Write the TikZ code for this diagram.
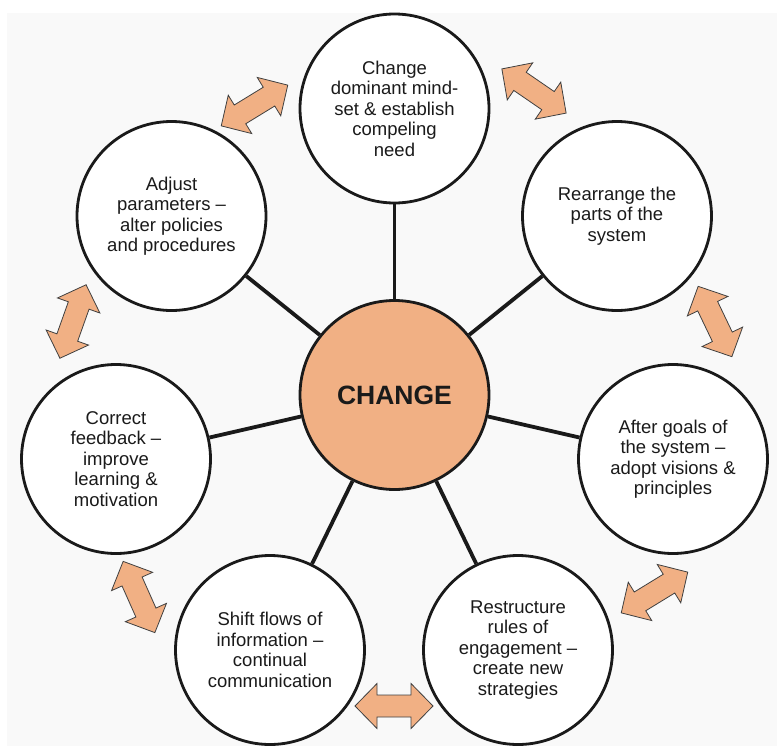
\documentclass[tikz,border=0pt]{standalone}
\usepackage{fontspec}
\setmainfont{Liberation Sans}
\definecolor{bgray}{HTML}{F9F9F9}
\definecolor{orng}{HTML}{F1B084}
\definecolor{ink}{HTML}{1A1A1A}
\begin{document}
\begin{tikzpicture}[x=1pt,y=-1pt,
  outer/.style={circle, draw=ink, line width=2.8pt, fill=white, minimum size=189pt,
    inner sep=0pt, align=center, font=\fontsize{18.5}{20.5}\selectfont, text=ink},
  hub/.style={circle, draw=ink, line width=2.8pt, fill=orng, minimum size=189pt,
    inner sep=0pt, font=\fontsize{26.5}{28}\selectfont\bfseries, text=ink},
  spoke/.style={draw=ink, line width=3.8pt},
  dblarr/.pic={\path[draw=black!75, line width=0.8pt, fill=orng, line join=miter]
    (-39,0) -- (-17,-22.5) -- (-17,-11) -- (17,-11) -- (17,-22.5) -- (39,0)
    -- (17,22.5) -- (17,11) -- (-17,11) -- (-17,22.5) -- cycle;}
]
\useasboundingbox (0,0) rectangle (777,747);
\fill[white] (0,0) rectangle (777,747);
\fill[bgray] (7,13) rectangle (777,746);

\node[hub] (hub) at (394.5,395) {CHANGE};
\node[outer] (n1) at (394.5,108.5) {Change\\dominant mind-\\set \& establish\\compeling\\need};
\node[outer] (n2) at (617,216) {Rearrange the\\parts of the\\system};
\node[outer] (n3) at (673,459) {After goals of\\the system –\\adopt visions \&\\principles};
\node[outer] (n4) at (518,650) {Restructure\\rules of\\engagement –\\create new\\strategies};
\node[outer] (n5) at (270,650) {Shift flows of\\information –\\continual\\communication};
\node[outer] (n6) at (116,459) {Correct\\feedback –\\improve\\learning \&\\motivation};
\node[outer] (n7) at (171.5,216) {Adjust\\parameters –\\alter policies\\and procedures};

\foreach \n in {n1,n2,n3,n4,n5,n6,n7}
  \draw[spoke] (hub) -- (\n);

\pic[rotate=31.5] at (254.5,105.5) {dblarr};
\pic[rotate=-34.5] at (534,91) {dblarr};
\pic[rotate=-64.4] at (715,321.5) {dblarr};
\pic[rotate=31.5] at (654.5,592.5) {dblarr};
\pic at (394,706) {dblarr};
\pic[rotate=-66] at (139,597) {dblarr};
\pic[rotate=70.4] at (73,321.5) {dblarr};
\end{tikzpicture}
\end{document}
